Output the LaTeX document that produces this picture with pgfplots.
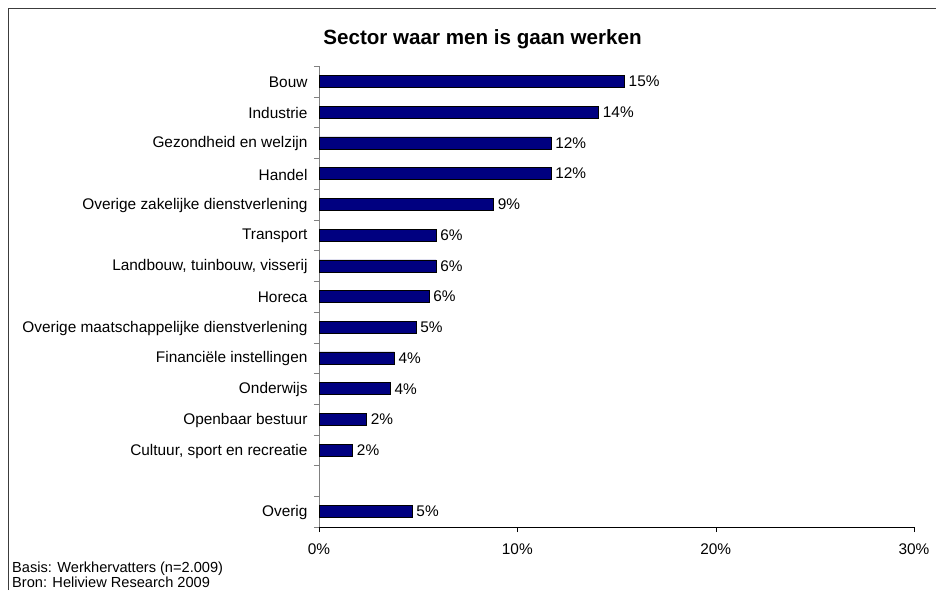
\documentclass[border=0pt]{standalone}
\usepackage{fontspec}
\setmainfont{Liberation Sans}
\usepackage{pgfplots}
\pgfplotsset{compat=1.18}
\definecolor{barnavy}{RGB}{0,0,128}
\definecolor{framegray}{RGB}{60,60,60}
\newcommand{\lblfont}{\fontsize{15.4}{18}\selectfont}
\begin{document}
\begin{tikzpicture}
\useasboundingbox (0,0) rectangle (936pt,590pt);
\draw[framegray, line width=1.5pt] (8.5pt,0) -- (8.5pt,581.5pt) -- (936pt,581.5pt);
\node[anchor=base, font=\fontsize{20.6}{24}\selectfont\bfseries] at (482.5pt,545pt) {Sector waar men is gaan werken};
\node[anchor=base west, font=\fontsize{14.6}{17}\selectfont, inner sep=0pt] at (12pt,18pt) {Basis: Werkhervatters (n=2.009)};
\node[anchor=base west, font=\fontsize{14.6}{17}\selectfont, inner sep=0pt] at (12pt,2.5pt) {Bron: Heliview Research 2009};
\begin{axis}[
  at={(319pt,63pt)}, anchor=south west,
  scale only axis, width=595pt, height=461pt,
  xbar, bar width=12pt,
  xmin=0, xmax=30, ymin=-0.5, ymax=14.5,
  axis x line*=bottom, axis y line*=left,
  x axis line style={-, black},
  y axis line style={-, gray},
  xtick={0,10,20,30},
  xticklabels={0\%,10\%,20\%,30\%},
  ytick={0,2,3,4,5,6,7,8,9,10,11,12,13,14},
  yticklabels={Overig, {Cultuur, sport en recreatie}, Openbaar bestuur, Onderwijs,
    Financiële instellingen, Overige maatschappelijke dienstverlening, Horeca,
    {Landbouw, tuinbouw, visserij}, Transport, Overige zakelijke dienstverlening,
    Handel, Gezondheid en welzijn, Industrie, Bouw},
  minor ytick={-0.5,0.5,1.5,2.5,3.5,4.5,5.5,6.5,7.5,8.5,9.5,10.5,11.5,12.5,13.5,14.5},
  tick align=outside,
  major tick length=5pt, minor tick length=5pt,
  major y tick style={draw=none},
  minor y tick style={gray},
  xtick style={black},
  ticklabel style={font=\lblfont},
  yticklabel style={anchor=east, xshift=-3pt, yshift=-1pt},
  xticklabel style={yshift=-8pt},
  point meta=x,
  nodes near coords={\pgfmathprintnumber[fixed,precision=0,assume math mode=true]{\pgfplotspointmeta}\%},
  nodes near coords style={font=\lblfont, inner sep=0pt, xshift=4pt, anchor=west, black},
]
\addplot[fill=barnavy, draw=black, line width=0.5pt] coordinates {
  (15.4,14) (14.1,13) (11.7,12) (11.7,11) (8.8,10) (5.9,9) (5.9,8)
  (5.55,7) (4.9,6) (3.8,5) (3.6,4) (2.4,3) (1.7,2) (4.7,0)
};
\end{axis}
\end{tikzpicture}
\end{document}
